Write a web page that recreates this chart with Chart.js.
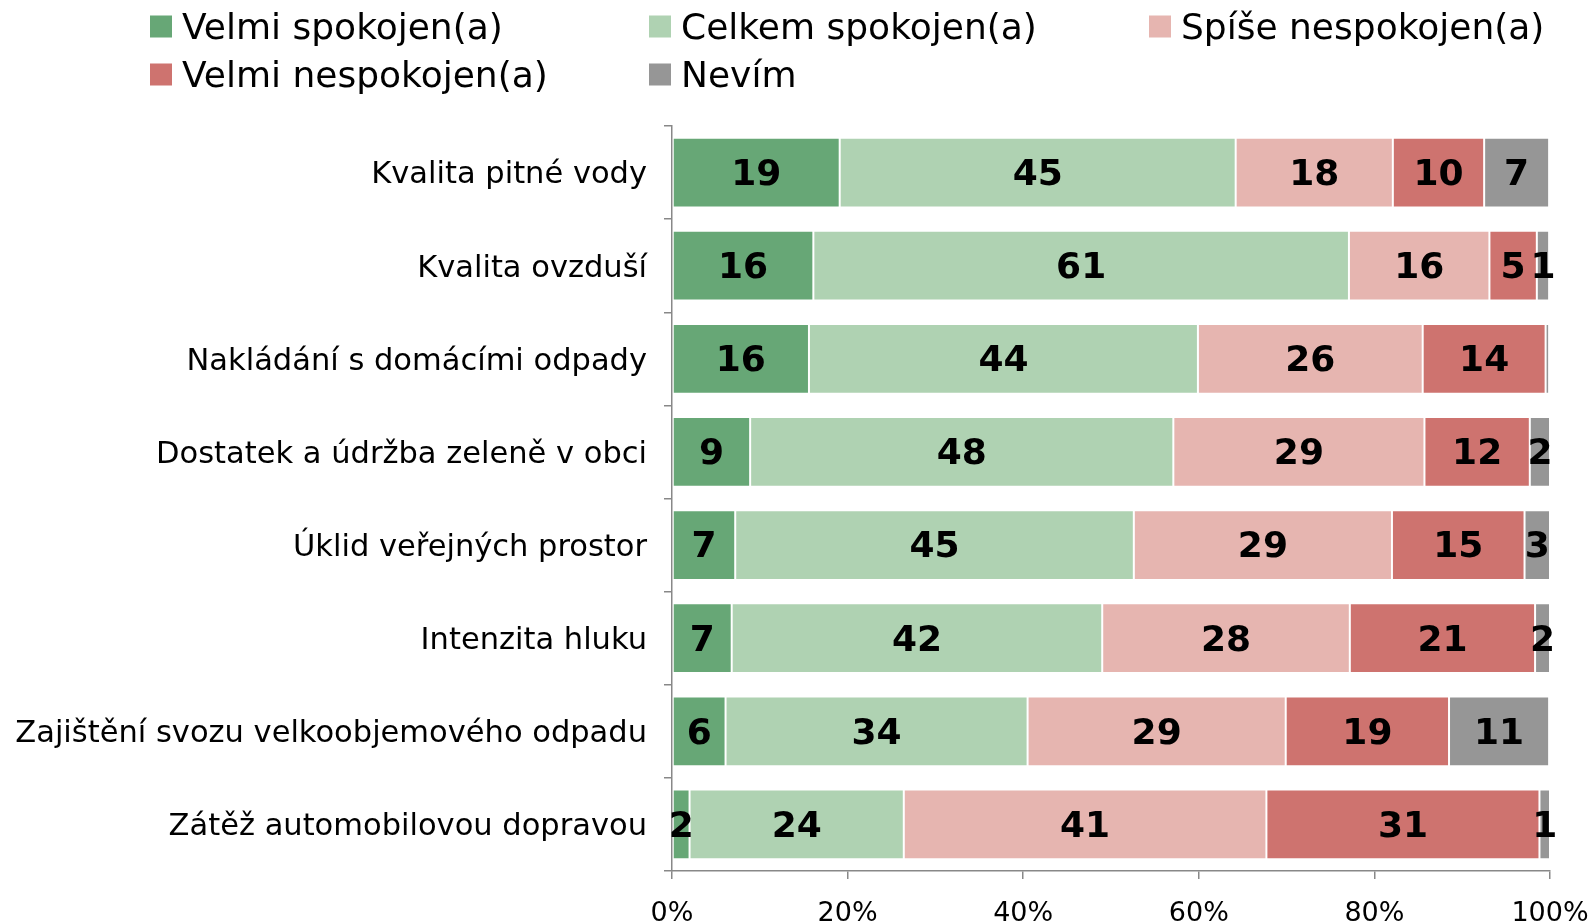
<!DOCTYPE html>
<html lang="cs">
<head>
<meta charset="utf-8">
<script src="https://cdn.jsdelivr.net/npm/chart.js@4.4.1/dist/chart.umd.min.js"></script>
<style>
body { margin: 0; background: #fff; font-family: "DejaVu Sans", Verdana, sans-serif; }
#wrap { position: relative; width: 1594px; height: 924px; }
#legend { position: absolute; left: 0; top: 0; width: 1594px; height: 110px; }
.item { position: absolute; display: flex; align-items: center; font-size: 36px; color: #000; white-space: nowrap; transform: translateY(-50%); }
.box { width: 22px; height: 22px; margin-right: 10px; }
</style>
</head>
<body>
<div id="wrap">
  <canvas id="myChart" width="1594" height="924"></canvas>
  <div id="legend"></div>
</div>
<script>
const categories = [
    'Kvalita pitné vody',
    'Kvalita ovzduší',
    'Nakládání s domácími odpady',
    'Dostatek a údržba zeleně v obci',
    'Úklid veřejných prostor',
    'Intenzita hluku',
    'Zajištění svozu velkoobjemového odpadu',
    'Zátěž automobilovou dopravou'
];
const seriesNames = ['Velmi spokojen(a)', 'Celkem spokojen(a)', 'Spíše nespokojen(a)', 'Velmi nespokojen(a)', 'Nevím'];
const seriesColors = ['#67a776', '#afd2b2', '#e6b5b0', '#ce736f', '#969696'];

// shares in %
const velmiSpokojen   = [19.1, 16.1, 15.6,  8.9,  7.2,  6.8,  6.1,  2.0];
const celkemSpokojen  = [45.1, 61.0, 44.3, 48.2, 45.4, 42.2, 34.4, 24.4];
const spiseNespokojen = [17.9, 16.0, 25.6, 28.6, 29.4, 28.2, 29.4, 41.3];
const velmiNespokojen = [10.4,  5.4, 14.0, 12.0, 15.1, 21.1, 18.6, 31.1];
const nevim           = [ 7.4,  1.4,  0.4,  2.3,  2.9,  1.7, 11.4,  1.2];

const xTicks = [0, 20, 40, 60, 80, 100];

const allSeries = [velmiSpokojen, celkemSpokojen, spiseNespokojen, velmiNespokojen, nevim];

// legend (two rows, three columns like the original)
const legendSpots = [[150, 26], [649, 26], [1149, 26], [150, 74], [649, 74]];
const legendEl = document.getElementById('legend');
seriesNames.forEach((name, i) => {
    let item = document.createElement('div');
    item.className = 'item';
    item.style.left = legendSpots[i][0] + 'px';
    item.style.top = legendSpots[i][1] + 'px';
    item.innerHTML = '<span class="box" style="background:' + seriesColors[i] + '"></span>' + name;
    legendEl.appendChild(item);
});

const barLabels = {
    id: 'barLabels',
    afterDatasetsDraw(chart) {
        const ctx = chart.ctx;
        ctx.save();
        ctx.font = 'bold 36px "DejaVu Sans"';
        ctx.fillStyle = '#000';
        ctx.textAlign = 'center';
        ctx.textBaseline = 'middle';
        chart.data.datasets.forEach((ds, i) => {
            chart.getDatasetMeta(i).data.forEach((bar, j) => {
                const v = Math.round(ds.data[j]);
                if (v < 1) return;
                const p = bar.getCenterPoint();
                ctx.fillText(v, p.x, p.y + 3);
            });
        });
        ctx.restore();
    }
};

const data = {
    labels: categories,
    datasets: allSeries.map((vals, i) => ({
        label: seriesNames[i],
        data: vals,
        backgroundColor: seriesColors[i],
        borderColor: '#ffffff',
        borderWidth: 1,
        borderSkipped: false,
        categoryPercentage: 1,
        barPercentage: 0.75
    }))
};

const config = {
    type: 'bar',
    data: data,
    options: {
        indexAxis: 'y',
        responsive: false,
        animation: false,
        devicePixelRatio: 1,
        layout: { padding: { top: 126, right: 44, left: 0, bottom: 0 } },
        plugins: { legend: { display: false }, tooltip: { enabled: false } },
        scales: {
            x: {
                stacked: true,
                min: 0,
                max: 100,
                afterBuildTicks: (scale) => { scale.ticks = xTicks.map(v => ({ value: v })); },
                afterFit: (scale) => {
                    scale.height = 53;
                    scale.paddingLeft = 0;
                    scale.paddingRight = 0;
                },
                ticks: {
                    callback: (v) => v + '%',
                    font: { family: 'DejaVu Sans', size: 27 },
                    color: '#000',
                    padding: 19,
                    maxRotation: 0
                },
                grid: { drawOnChartArea: false, tickLength: 8, color: '#888', lineWidth: 1.5 },
                border: { color: '#888', width: 1.5 }
            },
            y: {
                stacked: true,
                afterFit: (scale) => {
                    scale.width = 672;
                    scale.paddingTop = 0;
                    scale.paddingBottom = 0;
                },
                ticks: {
                    font: { family: 'DejaVu Sans', size: 30.5 },
                    color: '#000',
                    padding: 17,
                    labelOffset: 3
                },
                grid: { offset: true, drawOnChartArea: false, tickLength: 8, color: '#888', lineWidth: 1.5 },
                border: { color: '#888', width: 1.5 }
            }
        }
    },
    plugins: [barLabels]
};

const chartArea = document.getElementById('myChart');
const forecast_chart = new Chart(chartArea, config);
</script>
</body>
</html>
